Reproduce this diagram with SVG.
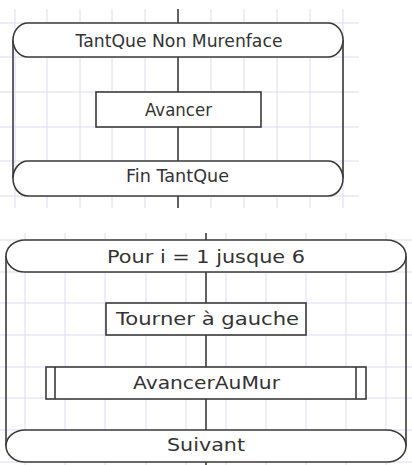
<svg xmlns="http://www.w3.org/2000/svg" width="412" height="465" viewBox="0 0 412 465">
<style>
.grid line{stroke:#dadaf6;stroke-width:1}
.shape{fill:#fff;stroke:#3a3a3a;stroke-width:1.6}
.side{fill:none;stroke:#3a3a3a;stroke-width:1.6}
.conn line{stroke:#3a3a3a;stroke-width:1.6}
text{font-family:"DejaVu Sans","Verdana",sans-serif;font-size:17px;fill:#333;text-anchor:middle}
</style>
<rect width="412" height="465" fill="#fff"/>
<g class="grid" id="grid-top">
<line x1="15" y1="9" x2="15" y2="208"/><line x1="47" y1="9" x2="47" y2="208"/><line x1="80" y1="9" x2="80" y2="208"/><line x1="112" y1="9" x2="112" y2="208"/><line x1="145" y1="9" x2="145" y2="208"/><line x1="211" y1="9" x2="211" y2="208"/><line x1="244" y1="9" x2="244" y2="208"/><line x1="277" y1="9" x2="277" y2="208"/><line x1="310" y1="9" x2="310" y2="208"/><line x1="343" y1="9" x2="343" y2="208"/>
<line x1="0" y1="23" x2="359" y2="23"/><line x1="0" y1="57" x2="359" y2="57"/><line x1="0" y1="92" x2="359" y2="92"/><line x1="0" y1="127" x2="359" y2="127"/><line x1="0" y1="161" x2="359" y2="161"/><line x1="0" y1="196" x2="359" y2="196"/>
</g>
<g class="grid" id="grid-bottom">
<line x1="25" y1="233" x2="25" y2="465"/><line x1="65" y1="233" x2="65" y2="465"/><line x1="105" y1="233" x2="105" y2="465"/><line x1="146" y1="233" x2="146" y2="465"/><line x1="186" y1="233" x2="186" y2="465"/><line x1="226" y1="233" x2="226" y2="465"/><line x1="266" y1="233" x2="266" y2="465"/><line x1="306" y1="233" x2="306" y2="465"/><line x1="346" y1="233" x2="346" y2="465"/><line x1="386" y1="233" x2="386" y2="465"/>
<line x1="0" y1="240" x2="412" y2="240"/><line x1="0" y1="272" x2="412" y2="272"/><line x1="0" y1="303" x2="412" y2="303"/><line x1="0" y1="335" x2="412" y2="335"/><line x1="0" y1="367" x2="412" y2="367"/><line x1="0" y1="398" x2="412" y2="398"/><line x1="0" y1="430" x2="412" y2="430"/><line x1="0" y1="462" x2="412" y2="462"/>
</g>
<g class="conn" id="connectors">
<line x1="178" y1="9" x2="178" y2="23"/>
<line x1="178" y1="57" x2="178" y2="92"/>
<line x1="178" y1="127" x2="178" y2="161"/>
<line x1="178" y1="196" x2="178" y2="208"/>
<line x1="206" y1="233" x2="206" y2="240"/>
<line x1="206" y1="272" x2="206" y2="303"/>
<line x1="206" y1="335" x2="206" y2="367"/>
<line x1="206" y1="399" x2="206" y2="430"/>
<line x1="206" y1="462" x2="206" y2="465"/>
<line x1="13" y1="40" x2="13" y2="178"/>
<line x1="343" y1="40" x2="343" y2="178"/>
<line x1="6" y1="256" x2="6" y2="446"/>
<line x1="406" y1="256" x2="406" y2="446"/>
</g>
<g id="tantque">
<path class="shape" d="M28,23 H328 A15,17 0 0 1 328,57 H28 A15,17 0 0 1 28,23 Z"/>
<text x="179" y="46.5" textLength="207" lengthAdjust="spacingAndGlyphs">TantQue Non Murenface</text>
</g>
<g id="avancer">
<rect class="shape" x="96" y="92" width="165" height="35"/>
<text x="178.5" y="115.5" textLength="67" lengthAdjust="spacingAndGlyphs">Avancer</text>
</g>
<g id="fin-tantque">
<path class="shape" d="M28,161 H328 A15,17.5 0 0 1 328,196 H28 A15,17.5 0 0 1 28,161 Z"/>
<text x="177.5" y="182" textLength="103" lengthAdjust="spacingAndGlyphs">Fin TantQue</text>
</g>
<g id="pour">
<path class="shape" d="M25,240 H387 A19,16 0 0 1 387,272 H25 A19,16 0 0 1 25,240 Z"/>
<text x="206" y="262.5" textLength="198" lengthAdjust="spacingAndGlyphs">Pour i = 1 jusque 6</text>
</g>
<g id="tourner">
<rect class="shape" x="106" y="303" width="200" height="32"/>
<text x="207.5" y="325" textLength="183" lengthAdjust="spacingAndGlyphs">Tourner à gauche</text>
</g>
<g id="avancer-au-mur">
<rect class="shape" x="46" y="367" width="320" height="32"/>
<line class="side" x1="55" y1="367" x2="55" y2="399"/>
<line class="side" x1="356" y1="367" x2="356" y2="399"/>
<text x="206.5" y="389" textLength="147" lengthAdjust="spacingAndGlyphs">AvancerAuMur</text>
</g>
<g id="suivant">
<path class="shape" d="M25,430 H387 A19,16 0 0 1 387,462 H25 A19,16 0 0 1 25,430 Z"/>
<text x="206" y="450.5" textLength="78" lengthAdjust="spacingAndGlyphs">Suivant</text>
</g>
</svg>
